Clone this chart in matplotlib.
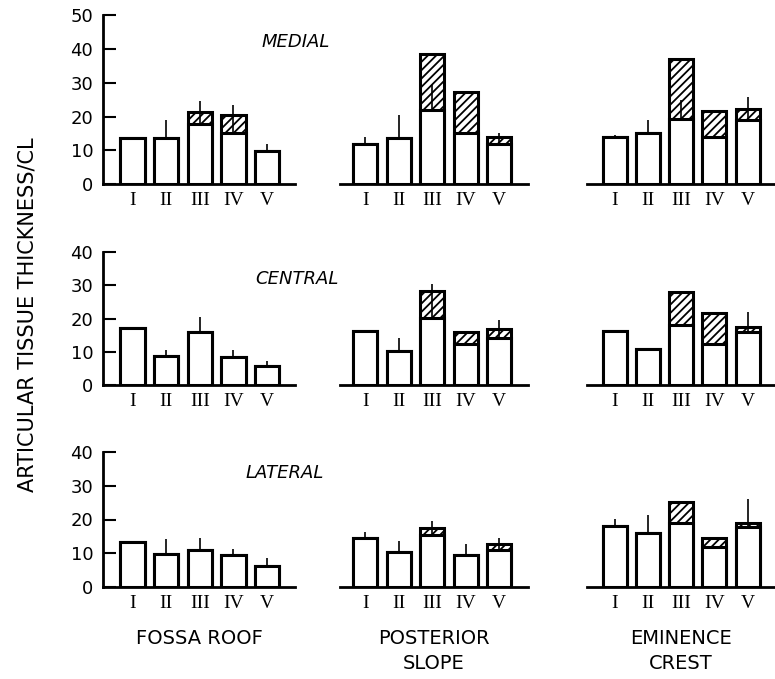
import numpy as np
import matplotlib
matplotlib.use('Agg')
import matplotlib.pyplot as plt

plt.rcParams['hatch.linewidth'] = 1.3

# roman numeral classes along x
classes = ['I', 'II', 'III', 'IV', 'V']
regions = ['FOSSA ROOF', 'POSTERIOR\nSLOPE', 'EMINENCE\nCREST']
rows = ['MEDIAL', 'CENTRAL', 'LATERAL']

nan = np.nan

# white (open) part of each bar, total height (white + hatched), error bar top
# medial
medial_fossa_white = [13.7, 13.7, 17.8, 15.0, 9.8]
medial_fossa_total = [13.7, 13.7, 21.3, 20.4, 9.8]
medial_fossa_err = [nan, 18.9, 24.5, 23.4, 11.8]

medial_post_white = [12.0, 13.7, 21.9, 15.0, 11.8]
medial_post_total = [12.0, 13.7, 38.6, 27.2, 14.0]
medial_post_err = [14.0, 20.4, 29.3, nan, 15.2]

medial_emin_white = [14.0, 15.0, 19.2, 14.0, 18.9]
medial_emin_total = [14.0, 15.0, 37.0, 21.7, 22.3]
medial_emin_err = [14.5, 18.9, 25.0, nan, 25.8]

# central
central_fossa_white = [17.3, 8.6, 15.9, 8.3, 5.8]
central_fossa_total = [17.3, 8.6, 15.9, 8.3, 5.8]
central_fossa_err = [nan, 10.6, 20.6, 10.4, 7.3]

central_post_white = [16.3, 10.3, 20.1, 12.4, 14.1]
central_post_total = [16.3, 10.3, 28.3, 16.1, 16.8]
central_post_err = [16.7, 14.3, 30.3, nan, 19.6]

central_emin_white = [16.3, 10.8, 18.1, 12.4, 15.9]
central_emin_total = [16.3, 10.8, 28.1, 21.6, 17.6]
central_emin_err = [nan, 11.1, nan, nan, 21.9]

# lateral
lateral_fossa_white = [13.2, 9.6, 10.9, 9.4, 6.3]
lateral_fossa_total = [13.2, 9.6, 10.9, 9.4, 6.3]
lateral_fossa_err = [13.4, 14.1, 14.4, 11.1, 8.5]

lateral_post_white = [14.4, 10.2, 15.4, 9.4, 10.9]
lateral_post_total = [14.4, 10.2, 17.4, 9.4, 12.6]
lateral_post_err = [16.2, 13.7, 19.6, 12.7, 14.4]

lateral_emin_white = [18.2, 15.9, 18.9, 11.9, 17.7]
lateral_emin_total = [18.2, 15.9, 25.3, 14.6, 18.9]
lateral_emin_err = [20.1, 21.3, nan, nan, 26.1]

data = [
    [(medial_fossa_white, medial_fossa_total, medial_fossa_err),
     (medial_post_white, medial_post_total, medial_post_err),
     (medial_emin_white, medial_emin_total, medial_emin_err)],
    [(central_fossa_white, central_fossa_total, central_fossa_err),
     (central_post_white, central_post_total, central_post_err),
     (central_emin_white, central_emin_total, central_emin_err)],
    [(lateral_fossa_white, lateral_fossa_total, lateral_fossa_err),
     (lateral_post_white, lateral_post_total, lateral_post_err),
     (lateral_emin_white, lateral_emin_total, lateral_emin_err)],
]

W, H = 775, 679
fig = plt.figure(figsize=(W / 100, H / 100), dpi=100)

# pixel layout: (baseline y, top y, ymax) per row; (left, right, xlim) per column
row_px = [(184, 15.3, 50), (385, 252.3, 40), (586.7, 452.3, 40)]
col_px = [(103, 295, (0.12, 5.83)), (340, 528, (0.24, 5.87)), (587, 775, (0.17, 5.82))]
title_pos = [(262, 42), (255, 279), (246, 473)]

x = np.arange(1, 6)
for r, (ybase, ytop, ymax) in enumerate(row_px):
    for c, (xl, xr, xlim) in enumerate(col_px):
        ax = fig.add_axes([xl / W, 1 - ybase / H, (xr - xl) / W, (ybase - ytop) / H])
        white, total, err = data[r][c]
        white = np.array(white)
        total = np.array(total)
        err = np.array(err)
        # hatched full-height bar, then the open part over it
        ax.bar(x, total, width=0.72, color='white', edgecolor='black', linewidth=2.2,
               hatch='////', zorder=2)
        ax.bar(x, white, width=0.72, color='white', edgecolor='black', linewidth=2.2, zorder=3)
        ok = ~np.isnan(err)
        ax.vlines(x[ok], white[ok], err[ok], color='black', linewidth=1.2, zorder=4)

        ax.set_xlim(*xlim)
        ax.set_ylim(0, ymax)
        ax.set_xticks(x)
        ax.set_xticklabels(classes, fontsize=14, family='Liberation Serif')
        ax.tick_params(axis='x', length=0, pad=6)
        for s in ['top', 'right']:
            ax.spines[s].set_visible(False)
        ax.spines['bottom'].set_linewidth(2)
        ax.patch.set_alpha(0)
        if c == 0:
            ax.spines['left'].set_linewidth(2)
            ax.set_yticks(np.arange(0, ymax + 1, 10))
            ax.tick_params(axis='y', direction='in', length=9, width=1.5, labelsize=13, pad=7)
        else:
            ax.spines['left'].set_visible(False)
            ax.set_yticks([])
        if r == 2:
            ax.set_xlabel(regions[c], fontsize=14, labelpad=12, linespacing=1.45)

    fig.text(title_pos[r][0] / W, 1 - title_pos[r][1] / H, rows[r], fontsize=13,
             style='italic', ha='left', va='center')

fig.text(28 / W, 1 - 315 / H, 'ARTICULAR TISSUE THICKNESS/CL', rotation=90,
         fontsize=15, ha='center', va='center')

fig.savefig('out.png', dpi=100)
